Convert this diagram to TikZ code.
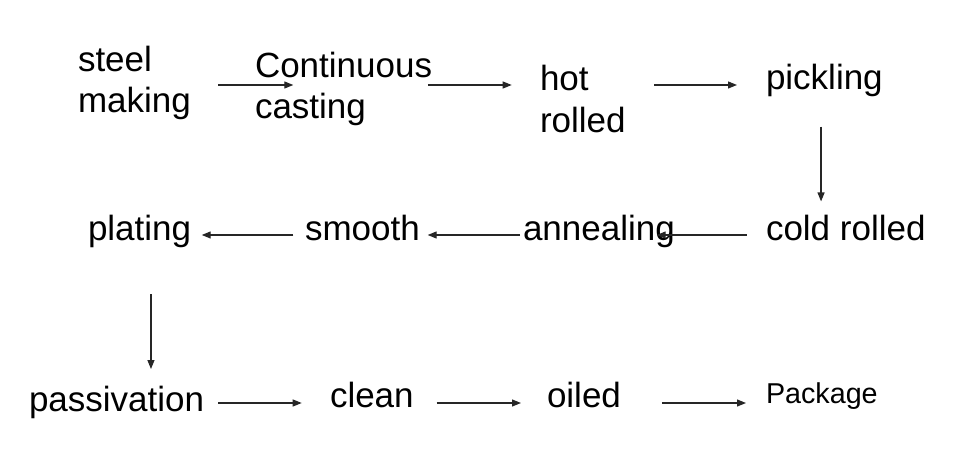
\documentclass[tikz,border=0pt]{standalone}
\usepackage{fontspec}
\setmainfont{Liberation Sans}
\usetikzlibrary{arrows.meta,calc}
\tikzset{
  lbl/.style={inner sep=0pt, outer sep=0pt, anchor=base west, align=left,
    font=\fontsize{35}{41.5}\selectfont},
  smalllbl/.style={lbl, font=\fontsize{28.7}{34}\selectfont},
  arr/.style={draw=black!85, line width=1.2pt, -{Triangle[length=9pt,width=7pt]}}
}
\begin{document}
\begin{tikzpicture}[x=1pt,y=-1pt]
\useasboundingbox (0,0) rectangle (964,454);
% nodes (base anchor = baseline of last line)
\node[lbl] (steel)   at (78,113)  {steel\\making};
\node[lbl] (cont)    at (255,119) {Continuous\\casting};
\node[lbl] (hot)     at (540,132.5) {hot\\rolled};
\node[lbl] (pick)    at (766,90)  {pickling};
\node[lbl] (cold)    at (766,241) {cold rolled};
\node[lbl] (anneal)  at (523,241) {annealing};
\node[lbl] (smooth)  at (305,241) {smooth};
\node[lbl] (plating) at (88,241)  {plating};
\node[lbl] (passiv)  at (29,411)  {passivation};
\node[lbl] (clean)   at (330,407) {clean};
\node[lbl] (oiled)   at (547,407) {oiled};
\node[smalllbl] (pack) at (766,403) {Package};
% rows of arrows
\coordinate (r1) at (0,85);
\coordinate (r2) at (0,235);
\coordinate (r3) at (0,403);
% row 1
\draw[arr, shorten <=27.5pt, shorten >=-38.3pt] (steel.east |- r1) -- (cont.west |- r1);
\draw[arr, shorten <=-4.3pt, shorten >=28.3pt] (cont.east |- r1) -- (hot.west |- r1);
\draw[arr, shorten <=28.4pt, shorten >=29pt] (hot.east |- r1) -- (pick.west |- r1);
% down
\draw[arr, shorten <=29.3pt, shorten >=14.2pt] ([xshift=-3.3pt]pick.south) -- ([xshift=-3.3pt]pick.south |- cold.north);
% row 2
\draw[arr, shorten <=19.3pt, shorten >=-18.1pt] (cold.west |- r2) -- (anneal.east |- r2);
\draw[arr, shorten <=3pt, shorten >=7.9pt] (anneal.west |- r2) -- (smooth.east |- r2);
\draw[arr, shorten <=11.7pt, shorten >=10.6pt] (smooth.west |- r2) -- (plating.east |- r2);
% down
\draw[arr, shorten <=45.9pt, shorten >=16.6pt] ([xshift=11.4pt]plating.south) -- ([xshift=11.4pt]plating.south |- passiv.north);
% row 3
\draw[arr, shorten <=14.3pt, shorten >=28.3pt] (passiv.east |- r3) -- (clean.west |- r3);
\draw[arr, shorten <=23pt, shorten >=26pt] (clean.east |- r3) -- (oiled.west |- r3);
\draw[arr, shorten <=40.8pt, shorten >=20pt] (oiled.east |- r3) -- (pack.west |- r3);
\end{tikzpicture}
\end{document}
